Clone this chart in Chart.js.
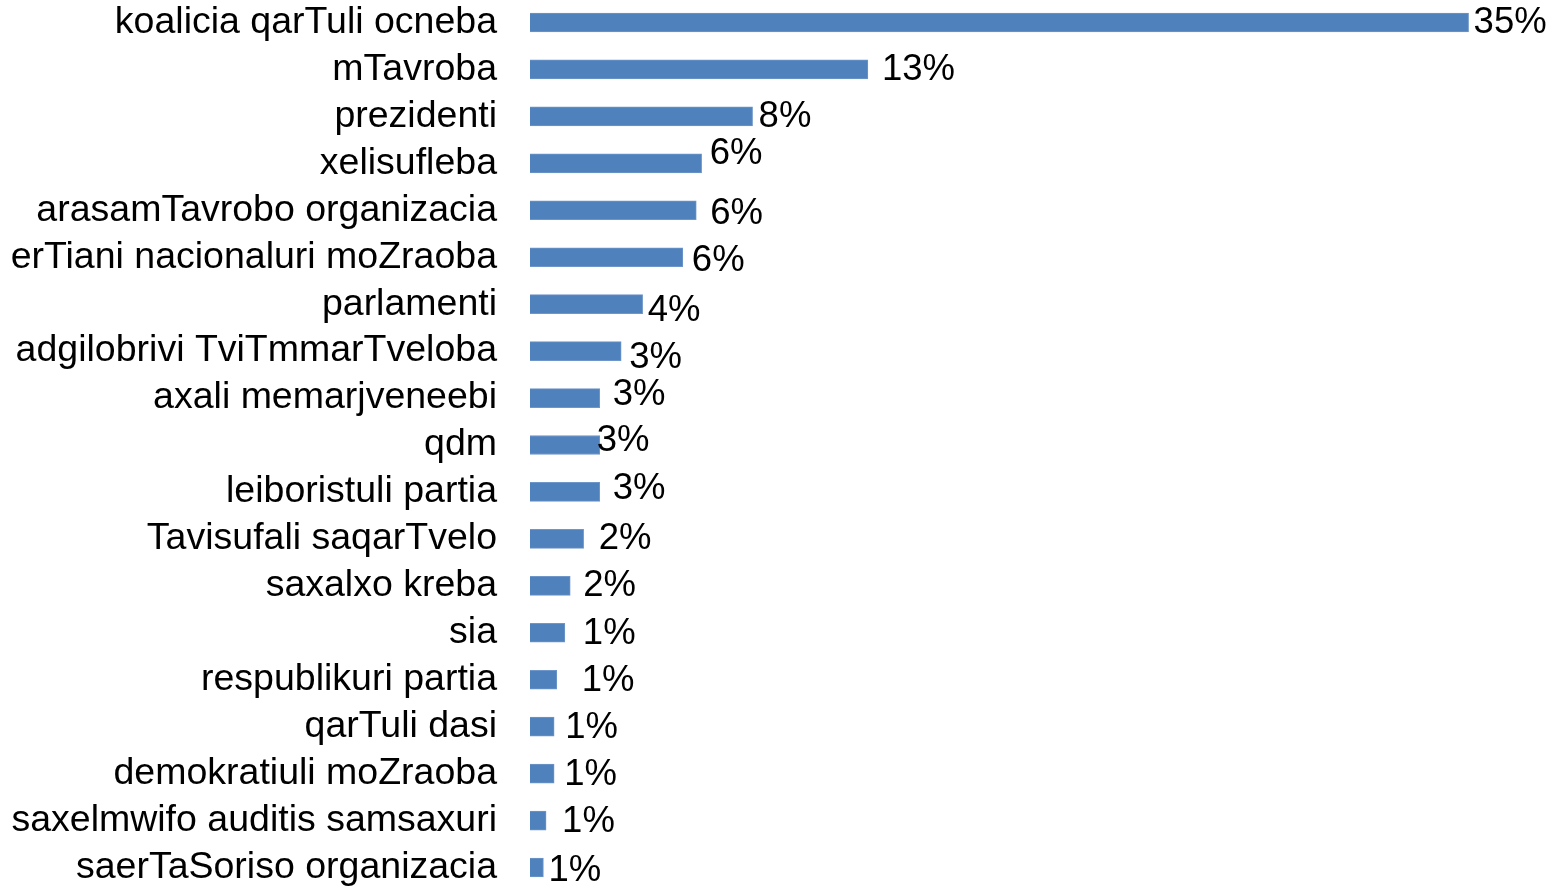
<!DOCTYPE html>
<html>
<head>
<meta charset="utf-8">
<script src="https://cdn.jsdelivr.net/npm/chart.js@4/dist/chart.umd.min.js"></script>
<style>
  html, body { margin: 0; padding: 0; background: #fff; overflow: hidden; }
  #wrap { width: 1564px; height: 892px; margin-top: -1px; position: relative; }
</style>
</head>
<body>
<div id="wrap"><canvas id="barChart"></canvas></div>
<script>
const categories = [
    'koalicia qarTuli ocneba', 'mTavroba', 'prezidenti', 'xelisufleba',
    'arasamTavrobo organizacia', 'erTiani nacionaluri moZraoba', 'parlamenti',
    'adgilobrivi TviTmmarTveloba', 'axali memarjveneebi', 'qdm',
    'leiboristuli partia', 'Tavisufali saqarTvelo', 'saxalxo kreba', 'sia',
    'respublikuri partia', 'qarTuli dasi', 'demokratiuli moZraoba',
    'saxelmwifo auditis samsaxuri', 'saerTaSoriso organizacia'
];
const values = [35.0, 12.6, 8.3, 6.4, 6.2, 5.7, 4.2, 3.4, 2.6, 2.6, 2.6, 2.0, 1.5, 1.3, 1.0, 0.9, 0.9, 0.6, 0.5];
const valueLabels = ['35%', '13%', '8%', '6%', '6%', '6%', '4%', '3%', '3%', '3%', '3%', '2%', '2%', '1%', '1%', '1%', '1%', '1%', '1%'];

// hand-placed label nudges from the original (dx, dy in px)
const labelShift = [
    [5, 0], [14, 1], [6, 1], [8, -9], [14, 4], [9, 4], [5, 7], [8, 7], [13, -3], [-3, -4],
    [13, -3], [15, 0], [13, 0], [18, 1], [25, 1], [11, 1], [10, 1], [16, 1], [5, 3]
];

const barLabels = {
    id: 'barLabels',
    afterDatasetsDraw(chart) {
        const ctx = chart.ctx;
        const meta = chart.getDatasetMeta(0);
        ctx.save();
        ctx.font = '36.5px "Liberation Sans", Arial, sans-serif';
        ctx.fillStyle = '#000';
        ctx.textAlign = 'left';
        ctx.textBaseline = 'middle';
        meta.data.forEach((bar, i) => {
            const s = labelShift[i];
            ctx.fillText(valueLabels[i], bar.x + s[0], bar.y + s[1]);
        });
        ctx.restore();
    }
};

new Chart(document.getElementById('barChart').getContext('2d'), {
    type: 'bar',
    data: {
        labels: categories,
        datasets: [{
            data: values,
            backgroundColor: '#4f81bd',
            borderColor: '#6f96c8',
            borderWidth: 1,
            barThickness: 19
        }]
    },
    options: {
        indexAxis: 'y',
        responsive: true,
        maintainAspectRatio: false,
        animation: false,
        layout: { padding: { top: 0, bottom: 0, left: 0, right: 82 } },
        plugins: {
            legend: { display: false },
            tooltip: { enabled: false }
        },
        scales: {
            x: {
                display: false,
                min: 0,
                max: 35.5
            },
            y: {
                grid: { display: false, drawTicks: false },
                border: { display: false },
                ticks: {
                    color: '#000',
                    padding: 33,
                    autoSkip: false,
                    font: { family: '"Liberation Sans", Arial, sans-serif', size: 37.5 }
                },
                afterFit(scale) {
                    scale.width = 530;
                    scale.paddingTop = 0;
                    scale.paddingBottom = 0;
                }
            }
        }
    },
    plugins: [barLabels]
});
</script>
</body>
</html>
